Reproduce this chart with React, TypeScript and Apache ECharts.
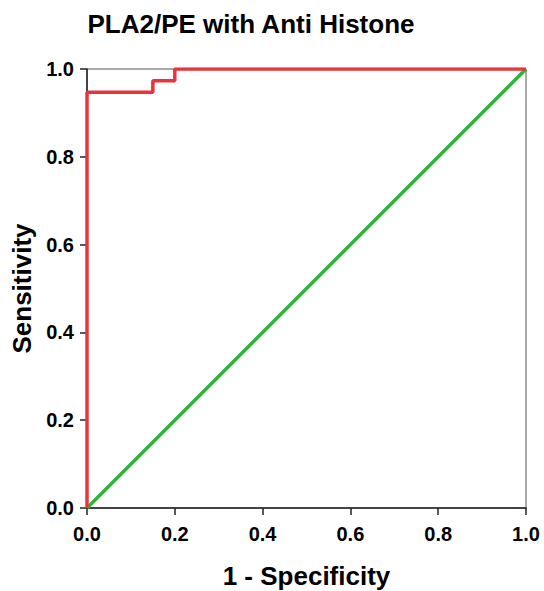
import React, { useEffect, useRef } from "react";
import * as echarts from "echarts";

const title = "PLA2/PE with Anti Histone";
const xAxisName = "1 - Specificity";
const yAxisName = "Sensitivity";
const rocFpr = [0, 0, 0.15, 0.15, 0.2, 0.2, 1];
const rocTpr = [0, 0.947, 0.947, 0.973, 0.973, 1, 1];
const refFpr = [0, 1];
const refTpr = [0, 1];

export default function App() {
  const ref = useRef<HTMLDivElement>(null);
  useEffect(() => {
    if (!ref.current) return;
    const chart = echarts.init(ref.current, null, { renderer: "svg" });
    const font = "'Liberation Sans', Arial, sans-serif";
    chart.setOption({
      animation: false,
      backgroundColor: "#fff",
      title: {
        text: title,
        left: 246,
        top: 6,
        textAlign: "center",
        textStyle: { fontFamily: font, fontWeight: "bold", fontSize: 26, color: "#000" },
      },
      grid: {
        left: 87, top: 69, width: 439, height: 439,
        containLabel: false,
        outerBoundsMode: "none",
        show: true, borderColor: "#555", borderWidth: 1, backgroundColor: "#fff",
      },
      xAxis: {
        type: "value", min: 0, max: 1, interval: 0.2,
        name: xAxisName, nameLocation: "middle", nameGap: 55,
        nameTextStyle: { fontFamily: font, fontWeight: "bold", fontSize: 26, color: "#000", verticalAlign: "top" },
        axisLine: { show: true, lineStyle: { color: "#222", width: 1.5 } },
        axisTick: { show: true, length: 7, lineStyle: { color: "#222", width: 1.5 } },
        axisLabel: {
          fontFamily: font, fontWeight: "bold", fontSize: 20, color: "#000", margin: 16,
          formatter: (v: number) => v.toFixed(1),
        },
        splitLine: { show: false },
      },
      yAxis: {
        type: "value", min: 0, max: 1, interval: 0.2,
        name: yAxisName, nameLocation: "middle", nameGap: 51, nameRotate: 90,
        nameTextStyle: { fontFamily: font, fontWeight: "bold", fontSize: 26, color: "#000" },
        axisLine: { show: true, lineStyle: { color: "#222", width: 1.5 } },
        axisTick: { show: true, length: 7, lineStyle: { color: "#222", width: 1.5 } },
        axisLabel: {
          fontFamily: font, fontWeight: "bold", fontSize: 20, color: "#000", margin: 13,
          formatter: (v: number) => v.toFixed(1),
        },
        splitLine: { show: false },
      },
      series: [
        {
          type: "line",
          data: refFpr.map((x, i) => [x, refTpr[i]]),
          symbol: "none",
          lineStyle: { color: "#2db43c", width: 3.5 },
          z: 2,
        },
        {
          type: "line",
          data: rocFpr.map((x, i) => [x, rocTpr[i]]),
          symbol: "none",
          lineStyle: { color: "#e8343a", width: 3.5 },
          z: 3,
        },
      ],
    });
    return () => chart.dispose();
  }, []);
  return (
    <div
      ref={ref}
      style={{ position: "fixed", left: 0, top: 0, width: 544, height: 591, background: "#fff" }}
    />
  );
}
